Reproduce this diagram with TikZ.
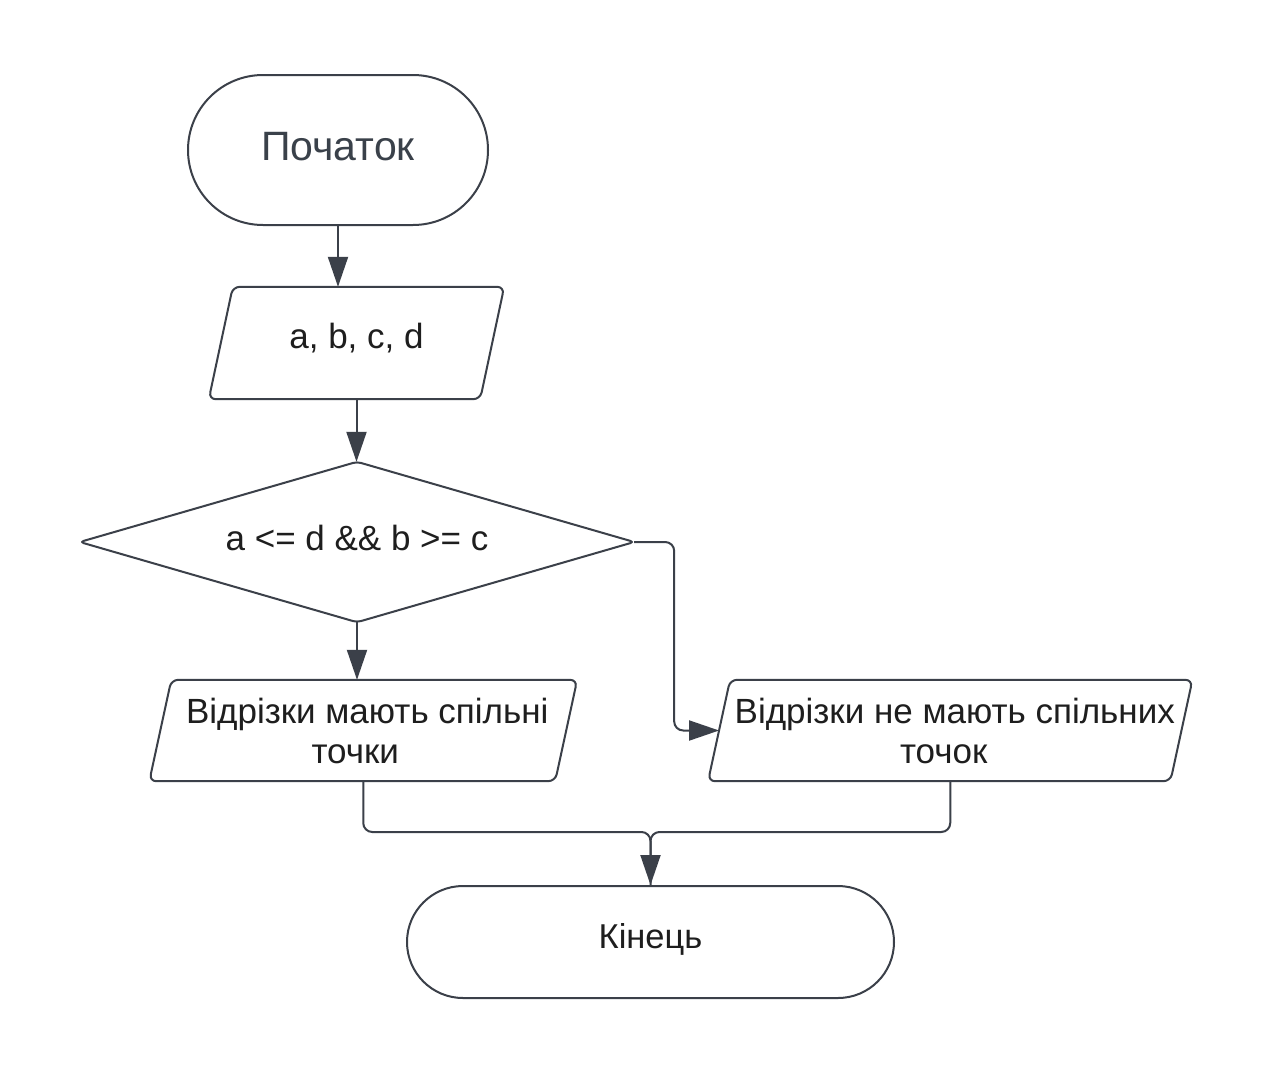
\documentclass[tikz,border=0pt]{standalone}
\usepackage{fontspec}
\setmainfont{Liberation Sans}
\usetikzlibrary{arrows.meta,calc}
\definecolor{ln}{HTML}{3B4049}
\definecolor{tx}{HTML}{1E1E1E}
\definecolor{txg}{HTML}{3A414A}
\tikzset{
  shp/.style={draw=ln, line width=2pt, line join=round},
  term/.style={shp, rectangle, inner sep=0pt, text=tx},
  box/.style={rectangle, inner sep=0pt, text=tx, align=center},
  conn/.style={draw=ln, line width=2pt, rounded corners=9pt},
  arr/.style={conn, -{Triangle[length=30pt,width=20pt]}},
  txt/.style={font=\fontsize{35}{40}\selectfont},
}
\begin{document}
\begin{tikzpicture}[x=1pt,y=-1pt]
\fill[white] (0,0) rectangle (1269,1074);
\useasboundingbox (0,0) rectangle (1269,1074);

% nodes
\node[term, rounded corners=75pt, minimum width=300pt, minimum height=150pt,
      text=txg, font=\fontsize{41}{47}\selectfont, text height=29.4pt, text depth=9pt]
      (start) at (338,150) {Початок};
\node[box, txt, minimum width=271pt, minimum height=112pt, text height=25.5pt, text depth=15.5pt]
      (inp) at (356.5,343) {a, b, c, d};
\node[box, txt, minimum width=554pt, minimum height=160pt, text height=25.5pt, text depth=9.5pt]
      (dec) at (357,542) {a <= d \&\& b >= c};
\node[box, txt, minimum width=405.5pt, minimum height=101pt] (yes) at (363.25,730.5)
      {\hspace*{8pt}Відрізки мають спільні\\точки\hspace*{16pt}};
\node[box, txt, minimum width=462pt, minimum height=101pt] (no) at (950.25,730.5)
      {\hspace*{9pt}Відрізки не мають спільних\\точок\hspace*{13pt}};
\node[term, rounded corners=56pt, minimum width=487pt, minimum height=112pt,
      font=\fontsize{34.5}{40}\selectfont, text height=25pt, text depth=13pt]
      (end) at (650.5,942) {Кінець};

% diamond outline
\draw[shp, rounded corners=4pt] (dec.north) -- (dec.east) -- (dec.south) -- (dec.west) -- cycle;

% parallelogram outlines
\draw[shp, rounded corners=7pt]
  ([xshift=12pt]inp.north west) -- ([xshift=12pt]inp.north east) --
  ([xshift=-12pt]inp.south east) -- ([xshift=-12pt]inp.south west) -- cycle;
\draw[shp, rounded corners=7pt]
  ([xshift=11pt]yes.north west) -- ([xshift=11pt]yes.north east) --
  ([xshift=-11pt]yes.south east) -- ([xshift=-11pt]yes.south west) -- cycle;
\draw[shp, rounded corners=7pt]
  ([xshift=11pt]no.north west) -- ([xshift=11pt]no.north east) --
  ([xshift=-11pt]no.south east) -- ([xshift=-11pt]no.south west) -- cycle;

% connectors
\draw[arr] (start.south) -- (start.south |- inp.north);
\draw[arr] (inp.south) -- (inp.south |- dec.north);
\draw[arr] (dec.south) -- (dec.south |- yes.north);
\draw[arr] (dec.east) -- ++(40,0) |- (no.west);
\coordinate (mj) at ($(end.north)+(0,-53)$);
\draw[conn] (yes.south) |- (mj) -- (end.north);
\draw[arr] (no.south) |- (mj) -- (end.north);
\end{tikzpicture}
\end{document}
